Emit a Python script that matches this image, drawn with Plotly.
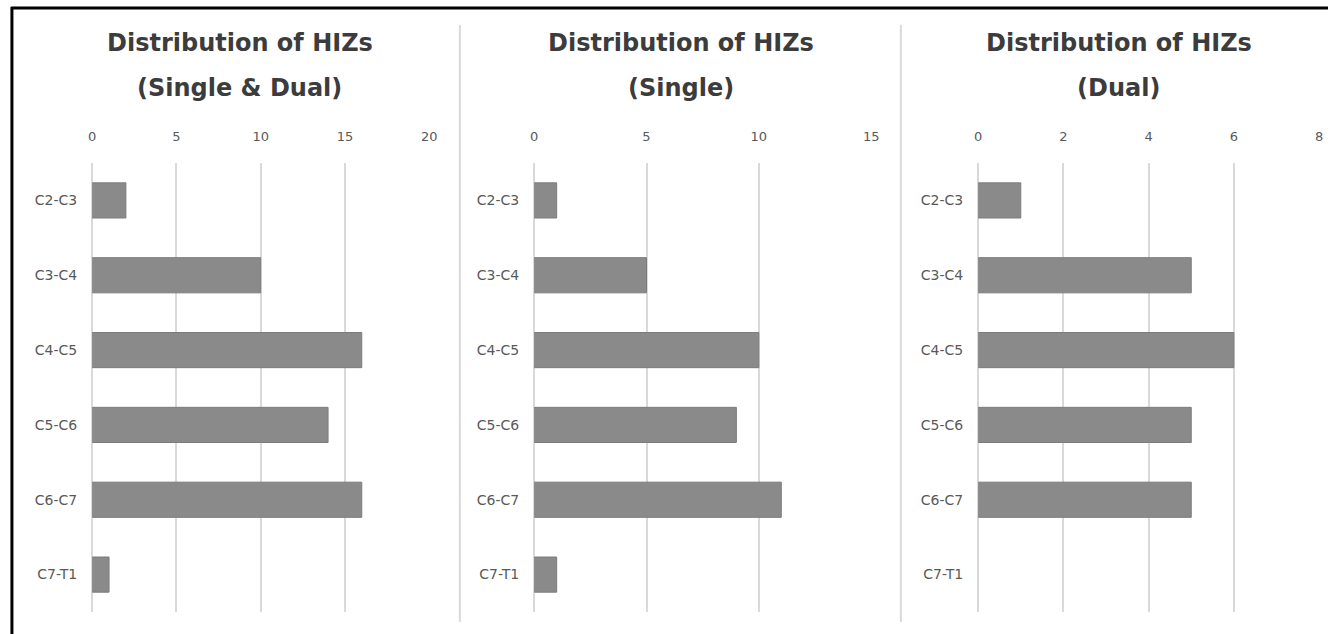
import plotly.graph_objects as go

levels = ["C2-C3", "C3-C4", "C4-C5", "C5-C6", "C6-C7", "C7-T1"]
single_dual = [2, 10, 16, 14, 16, 1]
single = [1, 5, 10, 9, 11, 1]
dual = [1, 5, 6, 5, 5, 0]

title_line1 = ["Distribution of HIZs", "Distribution of HIZs", "Distribution of HIZs"]
title_line2 = ["(Single & Dual)", "(Single)", "(Dual)"]
x_ranges = [[0, 20], [0, 15], [0, 8]]
x_dtick = [5, 5, 2]

W, H = 1336, 634
px = lambda v: v / W
py = lambda v: 1 - v / H

x_domains = [[px(89), px(429)], [px(535), px(875)], [px(983), px(1327)]]
y_domain = [py(612), py(163)]
title_x = [238, 683, 1125]

xtickfont = dict(family="DejaVu Sans", size=13, color="#595959")
ytickfont = dict(family="DejaVu Sans", size=14, color="#595959")

fig = go.Figure()
series = [single_dual, single, dual]
for i, vals in enumerate(series):
    n = "" if i == 0 else str(i + 1)
    fig.add_trace(go.Bar(
        x=vals, y=levels, orientation="h",
        xaxis="x" + n, yaxis="y" + n,
        marker=dict(color="#8a8a8a",
                    line=dict(color="#7c7c7c",
                              width=[1 if v > 0 else 0 for v in vals])),
        width=0.47, showlegend=False,
    ))
    fig.layout["xaxis" + n] = dict(
        domain=x_domains[i], range=x_ranges[i], dtick=x_dtick[i], tick0=0,
        side="top", anchor="y" + n, showgrid=True, gridcolor="#d9d9d9",
        gridwidth=1.5, zeroline=True, zerolinecolor="#d9d9d9", zerolinewidth=1.5,
        showline=False, ticks="", ticklabelstandoff=18,
        tickfont=xtickfont, fixedrange=True,
    )
    fig.layout["yaxis" + n] = dict(
        domain=y_domain, categoryorder="array", categoryarray=levels,
        autorange="reversed", anchor="x" + n, showgrid=False, zeroline=False,
        showline=False, ticks="", ticklabelstandoff=14,
        tickfont=ytickfont, fixedrange=True,
    )
    for txt, yy in [(title_line1[i], 43), (title_line2[i], 88)]:
        fig.add_annotation(
            text="<b>" + txt + "</b>", xref="paper", yref="paper",
            x=px(title_x[i]), y=py(yy), xanchor="center", yanchor="middle",
            showarrow=False, align="center",
            font=dict(family="DejaVu Sans", size=24, color="#3c3c3c"),
        )

# panel separators
for sx in [460, 905]:
    fig.add_shape(type="line", xref="paper", yref="paper",
                  x0=px(sx), x1=px(sx), y0=py(622), y1=py(25),
                  line=dict(color="#d9d9d9", width=2))
# outer black border (top and left)
fig.add_shape(type="line", xref="paper", yref="paper",
              x0=px(7), x1=1, y0=py(8), y1=py(8),
              line=dict(color="black", width=3))
fig.add_shape(type="line", xref="paper", yref="paper",
              x0=px(8), x1=px(8), y0=0, y1=py(7),
              line=dict(color="black", width=3))

fig.update_layout(
    width=W, height=H, margin=dict(l=0, r=0, t=0, b=0),
    paper_bgcolor="white", plot_bgcolor="white", bargap=0.5,
)
fig.write_html(
    "out.html",
    config={"displayModeBar": False},
    post_script="document.body.style.margin='0';document.body.style.overflow='hidden';",
)
